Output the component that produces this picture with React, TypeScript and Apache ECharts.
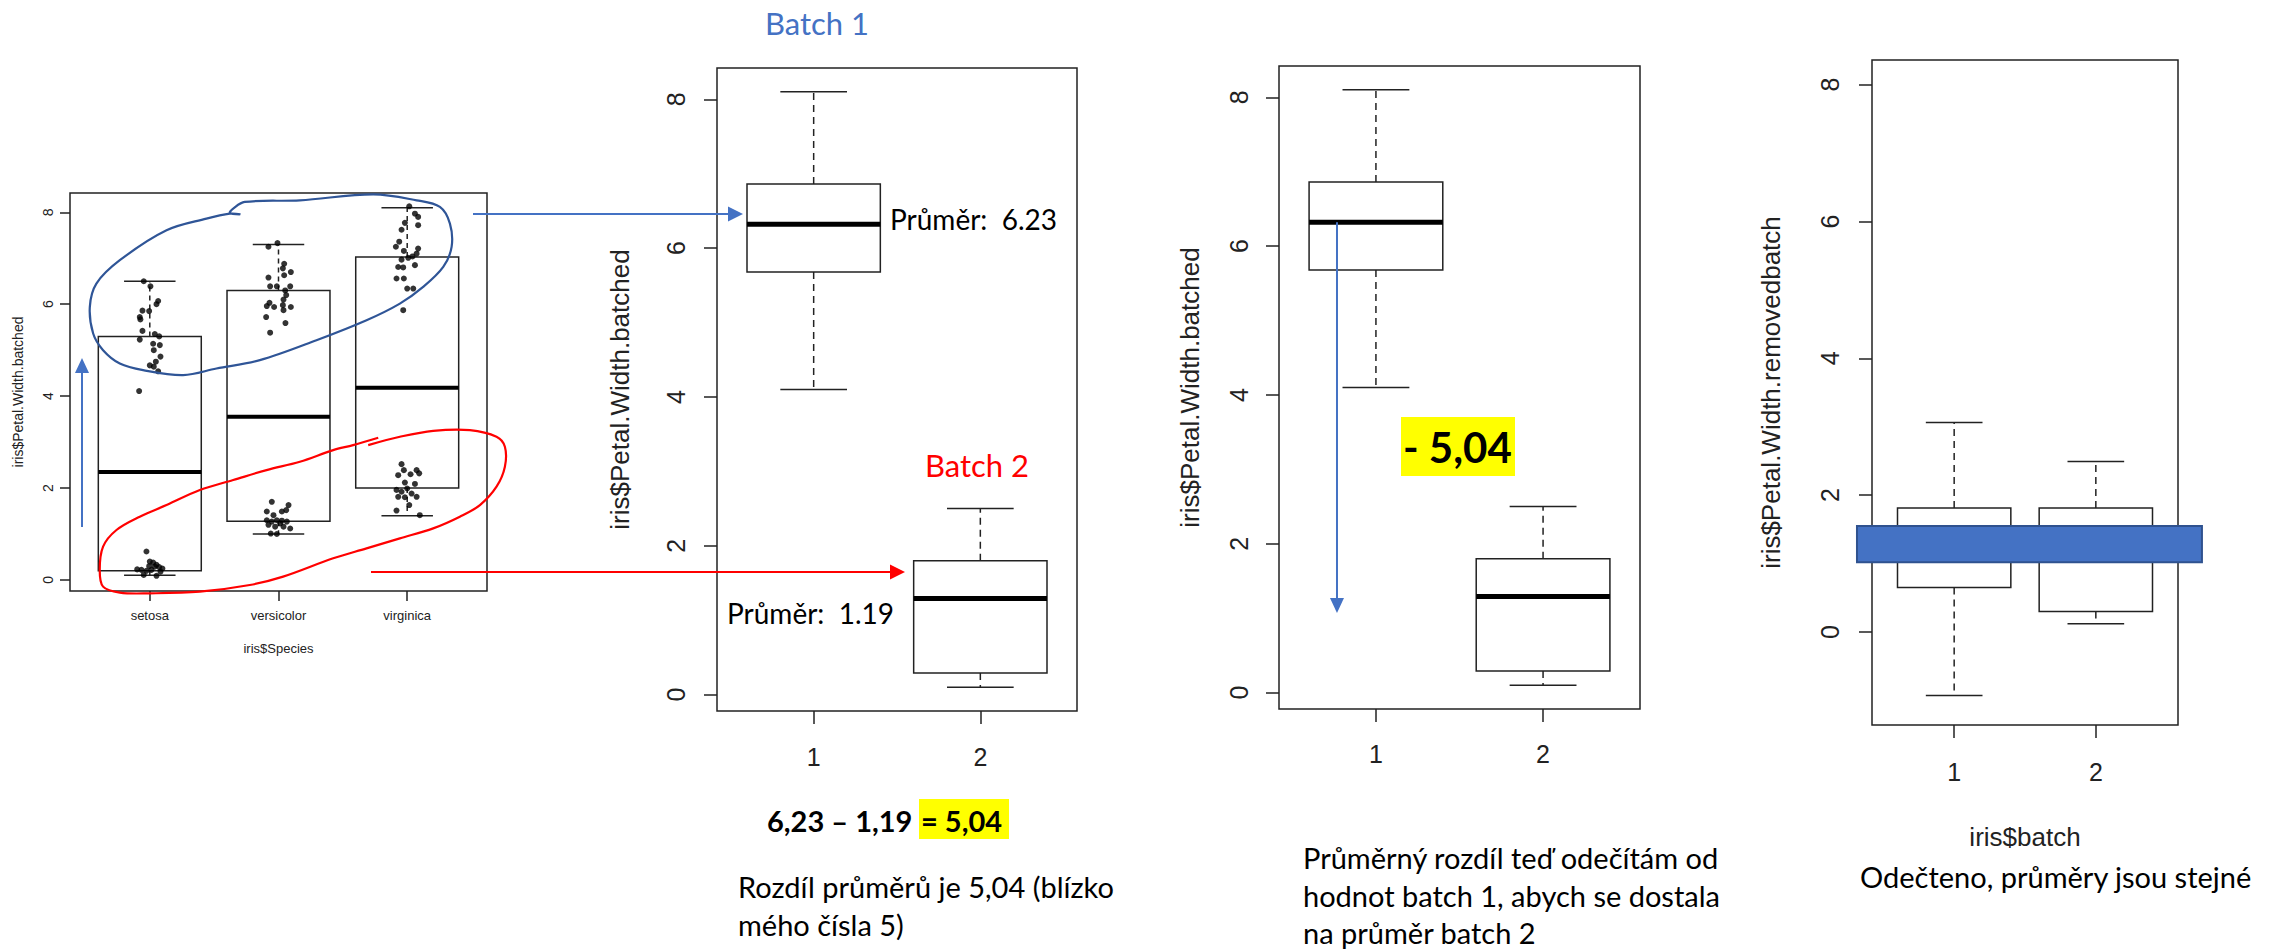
import React, { useEffect, useRef } from 'react';
import * as echarts from 'echarts';

// ---------- data ----------
const speciesNames = ['setosa', 'versicolor', 'virginica'];
// [min, Q1, median, Q3, max]
const speciesBoxes = [
  [0.1, 0.2, 2.35, 5.3, 6.5],
  [1.0, 1.28, 3.55, 6.3, 7.3],
  [1.4, 2.0, 4.18, 7.03, 8.1],
];
// jittered points: [offset from category, value]
const setosaPoints = [
  [-0.047, 6.5], [0.005, 6.39], [0.065, 6.07], [0.052, 6.0], [-0.057, 5.86], [-0.005, 5.85], [-0.078, 5.72],
  [-0.073, 5.67], [-0.057, 5.42], [0.039, 5.35], [0.073, 5.3], [-0.078, 5.23], [0.026, 5.14], [0.078, 5.11],
  [0.031, 5.0], [0.083, 4.86], [0.047, 4.75], [0, 4.67], [0.031, 4.64], [0.065, 4.54], [-0.083, 4.11],
  [-0.026, 0.62], [-0.098, 0.23], [-0.065, 0.22], [0, 0.4], [0.026, 0.38], [0.052, 0.33], [0.073, 0.28],
  [0.098, 0.25], [0.013, 0.22], [-0.026, 0.2], [-0.047, 0.11], [0.052, 0.09], [0.083, 0.18], [0.039, 0.29],
  [-0.005, 0.3],
];
const versicolorPoints = [
  [-0.008, 7.33], [-0.078, 7.25], [0.044, 6.88], [0.034, 6.78], [0.096, 6.7], [-0.078, 6.58], [0.044, 6.63],
  [-0.065, 6.39], [-0.013, 6.39], [0.091, 6.39], [0.052, 6.3], [0.06, 6.2], [0.039, 6.1], [-0.07, 6.03],
  [-0.091, 5.96], [-0.034, 5.94], [0.034, 5.98], [0.096, 5.94], [0.039, 5.87], [-0.096, 5.72], [0.054, 5.59],
  [-0.065, 5.38],
  [-0.052, 1.7], [-0.091, 1.49], [-0.039, 1.41], [0.026, 1.49], [0.06, 1.52], [0.078, 1.63], [-0.091, 1.3],
  [-0.052, 1.27], [-0.013, 1.3], [0.026, 1.29], [0.065, 1.27], [-0.078, 1.2], [-0.026, 1.16], [0.039, 1.16],
  [0.091, 1.12], [-0.06, 1.01], [-0.013, 1.0], [0.013, 1.23],
];
const virginicaPoints = [
  [0.016, 8.13], [0.06, 7.97], [0.085, 7.9], [0.085, 7.72], [-0.018, 7.77], [-0.044, 7.62], [-0.062, 7.36],
  [-0.088, 7.25], [-0.026, 7.16], [0.085, 7.21], [0.073, 7.1], [0.041, 7.04], [0.008, 7.01], [-0.044, 6.97],
  [-0.07, 6.81], [-0.031, 6.8], [0.06, 6.85], [-0.083, 6.56], [-0.026, 6.56], [0, 6.34], [0.047, 6.34],
  [-0.031, 5.87],
  [-0.044, 2.52], [-0.026, 2.39], [0.073, 2.39], [-0.07, 2.28], [0.026, 2.3], [0.093, 2.32], [-0.018, 2.12],
  [0.06, 2.09], [-0.083, 1.96], [-0.044, 1.92], [0, 1.99], [0.034, 1.88], [-0.07, 1.81], [-0.018, 1.8],
  [0.073, 1.81], [0.016, 1.63], [-0.083, 1.51], [0.098, 1.41],
];
const batchLabels = ['1', '2'];
const batchedBoxes = [
  [4.1, 5.68, 6.32, 6.86, 8.1],
  [0.1, 0.29, 1.29, 1.8, 2.5],
];
const removedBoxes = [
  [-0.93, 0.65, 1.28, 1.81, 3.06],
  [0.12, 0.3, 1.29, 1.81, 2.49],
];
const yTicks = [0, 2, 4, 6, 8];
const batchMeans = [6.23, 1.19];
const meanDiff = 5.04;
const meanBand = [1.02, 1.55];
// hand-drawn loops (panel 1 data coordinates)
const blueLoop = [
  [1.699, 7.957], [1.622, 7.986], [1.648, 8.08], [1.738, 8.225], [2.166, 8.26], [2.736, 8.39], [3.073, 8.26],
  [3.254, 8.116], [3.332, 7.754], [3.345, 7.246], [3.28, 6.812], [3.124, 6.377], [2.943, 6.014], [2.684, 5.652],
  [2.295, 5.217], [1.855, 4.783], [1.518, 4.601], [1.259, 4.457], [0.948, 4.565], [0.767, 4.71], [0.637, 5.0],
  [0.56, 5.362], [0.534, 5.942], [0.585, 6.449], [0.767, 6.957], [1.13, 7.609], [1.44, 7.862], [1.622, 7.971],
  [1.705, 7.957],
];
const redLoop = [
  [2.697, 2.935], [2.943, 3.116], [3.202, 3.246], [3.487, 3.261], [3.694, 3.116], [3.759, 2.899], [3.759, 2.464],
  [3.694, 2.029], [3.565, 1.63], [3.409, 1.377], [3.202, 1.123], [2.943, 0.906], [2.684, 0.688], [2.425, 0.471],
  [2.036, 0.072], [1.777, -0.109], [1.389, -0.254], [1.0, -0.29], [0.767, -0.275], [0.637, -0.145],
  [0.611, 0.217], [0.637, 0.725], [0.741, 1.087], [0.922, 1.377], [1.13, 1.63], [1.389, 1.957], [1.648, 2.174],
  [1.907, 2.391], [2.166, 2.572], [2.425, 2.826], [2.58, 2.935], [2.775, 3.094],
];

// ---------- styles ----------
const AX = '#222';
const RFONT = '"Liberation Sans", Arial, sans-serif';
const CFONT = 'Lato, "Open Sans", sans-serif';

function boxRender(lw: number, medW: number, dash: number[]) {
  return (params: any, api: any) => {
    const x = api.value(0);
    const p = [1, 2, 3, 4, 5].map((i) => api.coord([x, api.value(i)]));
    const [pMin, pQ1, pMed, pQ3, pMax] = p;
    const cx = pMin[0];
    const half = api.size([0.4, 0])[0];
    const cap = api.size([0.2, 0])[0];
    const s = { stroke: AX, lineWidth: lw, fill: 'none' };
    return {
      type: 'group',
      children: [
        { type: 'line', shape: { x1: cx, y1: pQ3[1], x2: cx, y2: pMax[1] }, style: { ...s, lineDash: dash } },
        { type: 'line', shape: { x1: cx, y1: pQ1[1], x2: cx, y2: pMin[1] }, style: { ...s, lineDash: dash } },
        { type: 'line', shape: { x1: cx - cap, y1: pMax[1], x2: cx + cap, y2: pMax[1] }, style: s },
        { type: 'line', shape: { x1: cx - cap, y1: pMin[1], x2: cx + cap, y2: pMin[1] }, style: s },
        { type: 'rect', shape: { x: cx - half, y: pQ3[1], width: 2 * half, height: pQ1[1] - pQ3[1] }, style: s },
        { type: 'line', shape: { x1: cx - half, y1: pMed[1], x2: cx + half, y2: pMed[1] }, style: { stroke: '#000', lineWidth: medW } },
      ],
    };
  };
}

function gridDef(left: number, top: number, width: number, height: number) {
  return { left, top, width, height, show: true, borderColor: AX, borderWidth: 1.5, backgroundColor: 'transparent', containLabel: false, outerBoundsMode: 'none' };
}

function xAxisDef(gi: number, min: number, max: number, labels: string[], o: any) {
  const vals = labels.map((_, i) => i + 1);
  return {
    type: 'value', gridIndex: gi, min, max, position: 'bottom',
    axisLine: { show: false, onZero: false }, splitLine: { show: false },
    axisTick: { show: true, customValues: vals, length: o.tick, lineStyle: { color: AX, width: 1.5 } },
    axisLabel: { customValues: vals, formatter: (v: number) => labels[Math.round(v) - 1] || '', margin: o.margin, fontSize: o.fs, fontFamily: RFONT, color: AX },
    name: o.name || '', nameLocation: 'middle', nameGap: o.nameGap || 0, nameMoveOverlap: false,
    nameTextStyle: { fontSize: o.nfs || o.fs, fontFamily: RFONT, color: AX },
  };
}

function yAxisDef(gi: number, min: number, max: number, o: any) {
  return {
    type: 'value', gridIndex: gi, min, max, position: 'left',
    axisLine: { show: false, onZero: false }, splitLine: { show: false },
    axisTick: { show: true, customValues: yTicks, length: o.tick, lineStyle: { color: AX, width: 1.5 } },
    axisLabel: { customValues: yTicks, rotate: 90, margin: o.margin, fontSize: o.fs, fontFamily: RFONT, color: AX },
    name: o.name, nameLocation: 'middle', nameGap: o.nameGap, nameRotate: 90, nameMoveOverlap: false,
    nameTextStyle: { fontSize: o.nfs, fontFamily: RFONT, color: AX },
  };
}

const withIndex = (boxes: number[][]) => boxes.map((b, i) => [i + 1, ...b]);
const jitter = (pts: number[][], cat: number) => pts.map(([o, v]) => [cat + o, v]);

const option: any = {
  animation: false,
  backgroundColor: '#fff',
  grid: [
    gridDef(70, 193, 417, 398),
    gridDef(717, 68, 360, 643),
    gridDef(1279, 66, 361, 643),
    gridDef(1872, 60, 306, 665),
  ],
  xAxis: [
    xAxisDef(0, 0.38, 3.62, speciesNames, { tick: 10, margin: 18, fs: 13, name: 'iris$Species', nameGap: 51 }),
    xAxisDef(1, 0.42, 2.58, batchLabels, { tick: 13, margin: 33, fs: 25 }),
    xAxisDef(2, 0.42, 2.58, batchLabels, { tick: 13, margin: 32, fs: 25 }),
    xAxisDef(3, 0.42, 2.58, batchLabels, { tick: 13, margin: 34, fs: 25, name: 'iris$batch', nameGap: 99, nfs: 26 }),
  ],
  yAxis: [
    yAxisDef(0, -0.24, 8.42, { tick: 10, margin: 15, fs: 14, name: 'iris$Petal.Width.batched', nameGap: 45, nfs: 14 }),
    yAxisDef(1, -0.22, 8.42, { tick: 13, margin: 29, fs: 25, name: 'iris$Petal.Width.batched', nameGap: 84, nfs: 26 }),
    yAxisDef(2, -0.22, 8.42, { tick: 13, margin: 28, fs: 25, name: 'iris$Petal.Width.batched', nameGap: 76, nfs: 26 }),
    yAxisDef(3, -1.36, 8.36, { tick: 13, margin: 30, fs: 25, name: 'iris$Petal.Width.removedbatch', nameGap: 88, nfs: 26 }),
  ],
  series: [
    { type: 'custom', xAxisIndex: 0, yAxisIndex: 0, silent: true, renderItem: boxRender(1.5, 4, [5, 4]), encode: { x: 0, y: [1, 2, 3, 4, 5] }, data: withIndex(speciesBoxes) },
    {
      type: 'scatter', xAxisIndex: 0, yAxisIndex: 0, silent: true, symbolSize: 6, itemStyle: { color: '#000' },
      data: [...jitter(setosaPoints, 1), ...jitter(versicolorPoints, 2), ...jitter(virginicaPoints, 3)],
    },
    { type: 'custom', xAxisIndex: 1, yAxisIndex: 1, silent: true, renderItem: boxRender(1.5, 5, [7, 5]), encode: { x: 0, y: [1, 2, 3, 4, 5] }, data: withIndex(batchedBoxes) },
    { type: 'custom', xAxisIndex: 2, yAxisIndex: 2, silent: true, renderItem: boxRender(1.5, 5, [7, 5]), encode: { x: 0, y: [1, 2, 3, 4, 5] }, data: withIndex(batchedBoxes) },
    { type: 'custom', xAxisIndex: 3, yAxisIndex: 3, silent: true, renderItem: boxRender(1.5, 5, [7, 5]), encode: { x: 0, y: [1, 2, 3, 4, 5] }, data: withIndex(removedBoxes) },
  ],
};

const BLUE = '#4472C4';
const DARKBLUE = '#2F5597';
const RED = '#FF0000';
const YELLOW = '#FFFF00';

const comma = (v: number) => v.toFixed(2).replace('.', ',');

function txt(x: number, y: number, text: string, fontSize: number, fill = '#000', bold = false) {
  return { type: 'text', z: 110, x, y, style: { text, fontSize, fontFamily: CFONT, fontWeight: bold ? 'bold' : 'normal', fill, align: 'left', verticalAlign: 'middle' } };
}
function hArrow(x1: number, x2: number, y: number, color: string) {
  return [
    { type: 'line', z: 100, shape: { x1, y1: y, x2: x2 - 14, y2: y }, style: { stroke: color, lineWidth: 2 } },
    { type: 'polygon', z: 100, shape: { points: [[x2, y], [x2 - 15, y - 7.5], [x2 - 15, y + 7.5]] }, style: { fill: color } },
  ];
}
function vArrow(x: number, y1: number, y2: number, color: string) {
  const dir = y2 > y1 ? 1 : -1;
  return [
    { type: 'line', z: 100, shape: { x1: x, y1, x2: x, y2: y2 - dir * 14 }, style: { stroke: color, lineWidth: 2 } },
    { type: 'polygon', z: 100, shape: { points: [[x, y2], [x - 7, y2 - dir * 15], [x + 7, y2 - dir * 15]] }, style: { fill: color } },
  ];
}

export default function App() {
  const ref = useRef<HTMLDivElement>(null);
  useEffect(() => {
    const chart = echarts.init(ref.current!, null, { renderer: 'svg' });
    chart.setOption(option);
    const px = (g: number, p: number[]) => chart.convertToPixel({ gridIndex: g } as any, p) as unknown as number[];

    const bandA = px(3, [0.314, meanBand[1]]);
    const bandB = px(3, [2.749, meanBand[0]]);
    const arrTop = px(2, [0.767, batchedBoxes[0][2]]);
    const arrBot = px(2, [0.767, 1.07]);

    const elements: any[] = [
      { type: 'polyline', z: 100, shape: { points: blueLoop.map((p) => px(0, p)), smooth: 0.35 }, style: { stroke: DARKBLUE, lineWidth: 2.2, fill: 'none' } },
      { type: 'polyline', z: 100, shape: { points: redLoop.map((p) => px(0, p)), smooth: 0.35 }, style: { stroke: RED, lineWidth: 2.2, fill: 'none' } },
      ...vArrow(82, 527, 358, BLUE),
      ...hArrow(473, 743, 214, BLUE),
      ...hArrow(371, 905, 572, RED),
      ...vArrow(arrTop[0], arrTop[1], arrBot[1], BLUE),
      { type: 'rect', z: 100, shape: { x: bandA[0], y: bandA[1], width: bandB[0] - bandA[0], height: bandB[1] - bandA[1] }, style: { fill: BLUE, stroke: '#2F528F', lineWidth: 2 } },
      { type: 'rect', z: 100, shape: { x: 919, y: 799, width: 90, height: 40 }, style: { fill: YELLOW } },
      { type: 'rect', z: 100, shape: { x: 1401, y: 417, width: 114, height: 59 }, style: { fill: YELLOW } },
      txt(765, 23, 'Batch 1', 31, BLUE),
      txt(925, 465, 'Batch 2', 31, RED),
      txt(890, 219, `Průměr:  ${batchMeans[0].toFixed(2)}`, 28),
      txt(727, 613, `Průměr:  ${batchMeans[1].toFixed(2)}`, 28),
      txt(767, 820, `${comma(batchMeans[0])} – ${comma(batchMeans[1])}`, 29, '#000', true),
      txt(921, 820, `= ${comma(meanDiff)}`, 29, '#000', true),
      txt(738, 886, `Rozdíl průměrů je ${comma(meanDiff)} (blízko`, 29),
      txt(738, 924, 'mého čísla 5)', 29),
      txt(1403, 447, `- ${comma(meanDiff)}`, 42, '#000', true),
      txt(1303, 857, 'Průměrný rozdíl teď odečítám od', 29),
      txt(1303, 895, 'hodnot batch 1, abych se dostala', 29),
      txt(1303, 932, 'na průměr batch 2', 29),
      txt(1860, 876, 'Odečteno, průměry jsou stejné', 29),
    ];
    chart.setOption({ graphic: elements });
    return () => chart.dispose();
  }, []);
  return <div ref={ref} style={{ position: 'fixed', left: 0, top: 0, width: 2295, height: 950, background: '#fff' }} />;
}
